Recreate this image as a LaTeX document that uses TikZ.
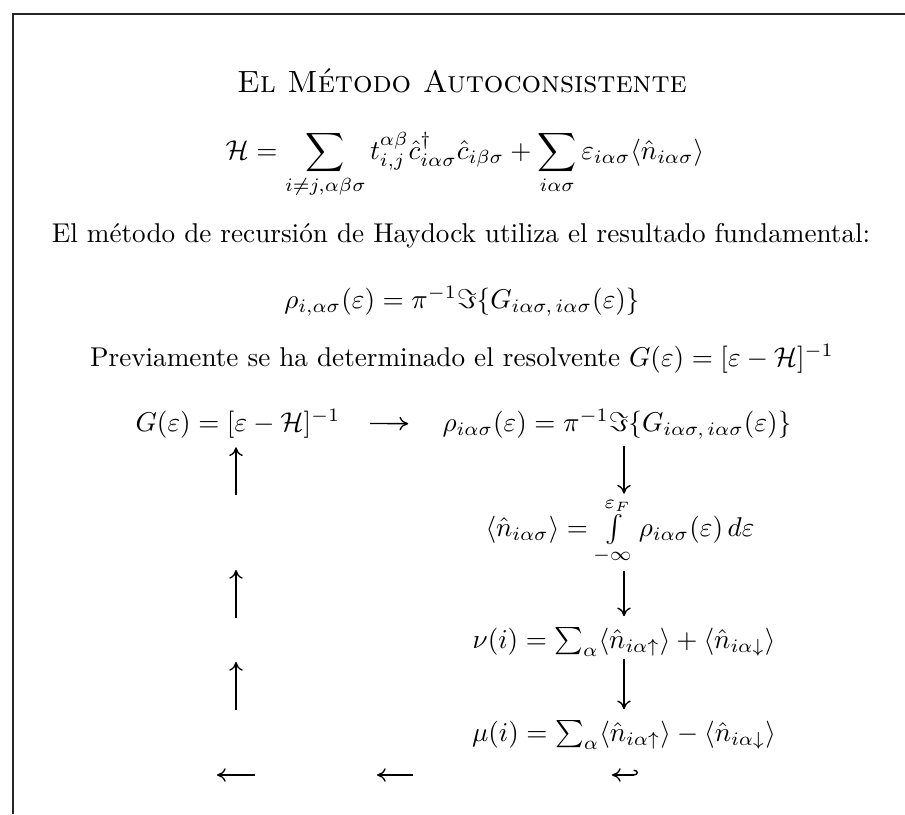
\documentclass[tikz,border=0pt]{standalone}
\usepackage{amsmath}
\usepackage{tikz}
\usetikzlibrary{arrows.meta}

\begin{document}
\begin{tikzpicture}[
  x=0.368pt, y=-0.368pt,
  txt/.style={inner sep=0pt, anchor=base, font=\normalsize},
  head/.style={inner sep=0pt, anchor=base, font=\fontsize{11.3}{13}\selectfont},
  arr/.style={-{To[length=3.2pt,width=5pt]}, line width=0.5pt},
  hookarr/.style={{To[length=3.2pt,width=5pt]}-{Hooks[left,length=1.6pt,width=4pt]}, line width=0.5pt},
  frame/.style={line width=1.1pt, color=black!85}
]
  \useasboundingbox (0,0) rectangle (905,814);
  \draw[frame] (905,14) -- (13,14) -- (13,814);

  \node[head] (title) at (462,92)  {\textsc{El Método Autoconsistente}};
  \node[txt]  (ham)   at (465,159) {$\displaystyle \mathcal{H} = \sum_{i\neq j,\alpha\beta\sigma} t^{\alpha\beta}_{i,j}\hat{c}^{\dagger}_{i\alpha\sigma}\hat{c}_{i\beta\sigma} + \sum_{i\alpha\sigma}\varepsilon_{i\alpha\sigma}\langle\hat{n}_{i\alpha\sigma}\rangle$};
  \node[txt]  (intro) at (461,242) {El método de recursión de Haydock utiliza el resultado fundamental:};
  \node[txt]  (rhoi)  at (462,308) {$\rho_{i,\alpha\sigma}(\varepsilon) = \pi^{-1}\Im\{G_{i\alpha\sigma,\,i\alpha\sigma}(\varepsilon)\}$};
  \node[txt]  (prev)  at (462,366) {Previamente se ha determinado el resolvente $G(\varepsilon) = [\varepsilon - \mathcal{H}]^{-1}$};

  \node[txt] (green) at (238,431) {$G(\varepsilon) = [\varepsilon - \mathcal{H}]^{-1}$};
  \node[txt] (rho)   at (617,431) {$\rho_{i\alpha\sigma}(\varepsilon) = \pi^{-1}\Im\{G_{i\alpha\sigma,\,i\alpha\sigma}(\varepsilon)\}$};
  \node[txt] (occ)   at (620,536) {$\langle\hat{n}_{i\alpha\sigma}\rangle = \int\limits_{-\infty}^{\varepsilon_F}\rho_{i\alpha\sigma}(\varepsilon)\,d\varepsilon$};
  \node[txt] (nu)    at (624,648) {$\nu(i) = \sum_\alpha \langle\hat{n}_{i\alpha\uparrow}\rangle + \langle\hat{n}_{i\alpha\downarrow}\rangle$};
  \node[txt] (mu)    at (624,741) {$\mu(i) = \sum_\alpha \langle\hat{n}_{i\alpha\uparrow}\rangle - \langle\hat{n}_{i\alpha\downarrow}\rangle$};

  \coordinate (upcol)   at (236,0);
  \coordinate (downcol) at (624,0);
  \coordinate (up1)   at (236,495);
  \coordinate (up2a)  at (236,618);
  \coordinate (up2b)  at (236,570);
  \coordinate (up3a)  at (236,710);
  \coordinate (up3b)  at (236,662);
  \coordinate (back1a) at (255,775);
  \coordinate (back1b) at (217,775);
  \coordinate (back2a) at (413,775);
  \coordinate (back2b) at (377,775);
  \coordinate (back3a) at (638,775);
  \coordinate (back3b) at (612,775);

  \draw[arr, shorten <=10.7pt, shorten >=12.5pt] (green.east) -- (rho.west);
  \draw[arr, shorten <=2.6pt, shorten >=1.2pt] (rho.south -| downcol) -- (occ.north -| downcol);
  \draw[arr, shorten <=1.8pt, shorten >=4pt] (occ.south -| downcol) -- (nu.north -| downcol);
  \draw[arr, shorten <=1pt, shorten >=4pt] (nu.south -| downcol) -- (mu.north -| downcol);
  \draw[arr, shorten >=3.3pt] (up1) -- (green.south -| upcol);
  \draw[arr] (up2a) -- (up2b);
  \draw[arr] (up3a) -- (up3b);
  \draw[arr] (back1a) -- (back1b);
  \draw[arr] (back2a) -- (back2b);
  \draw[hookarr] (back3b) -- (back3a);
\end{tikzpicture}
\end{document}
